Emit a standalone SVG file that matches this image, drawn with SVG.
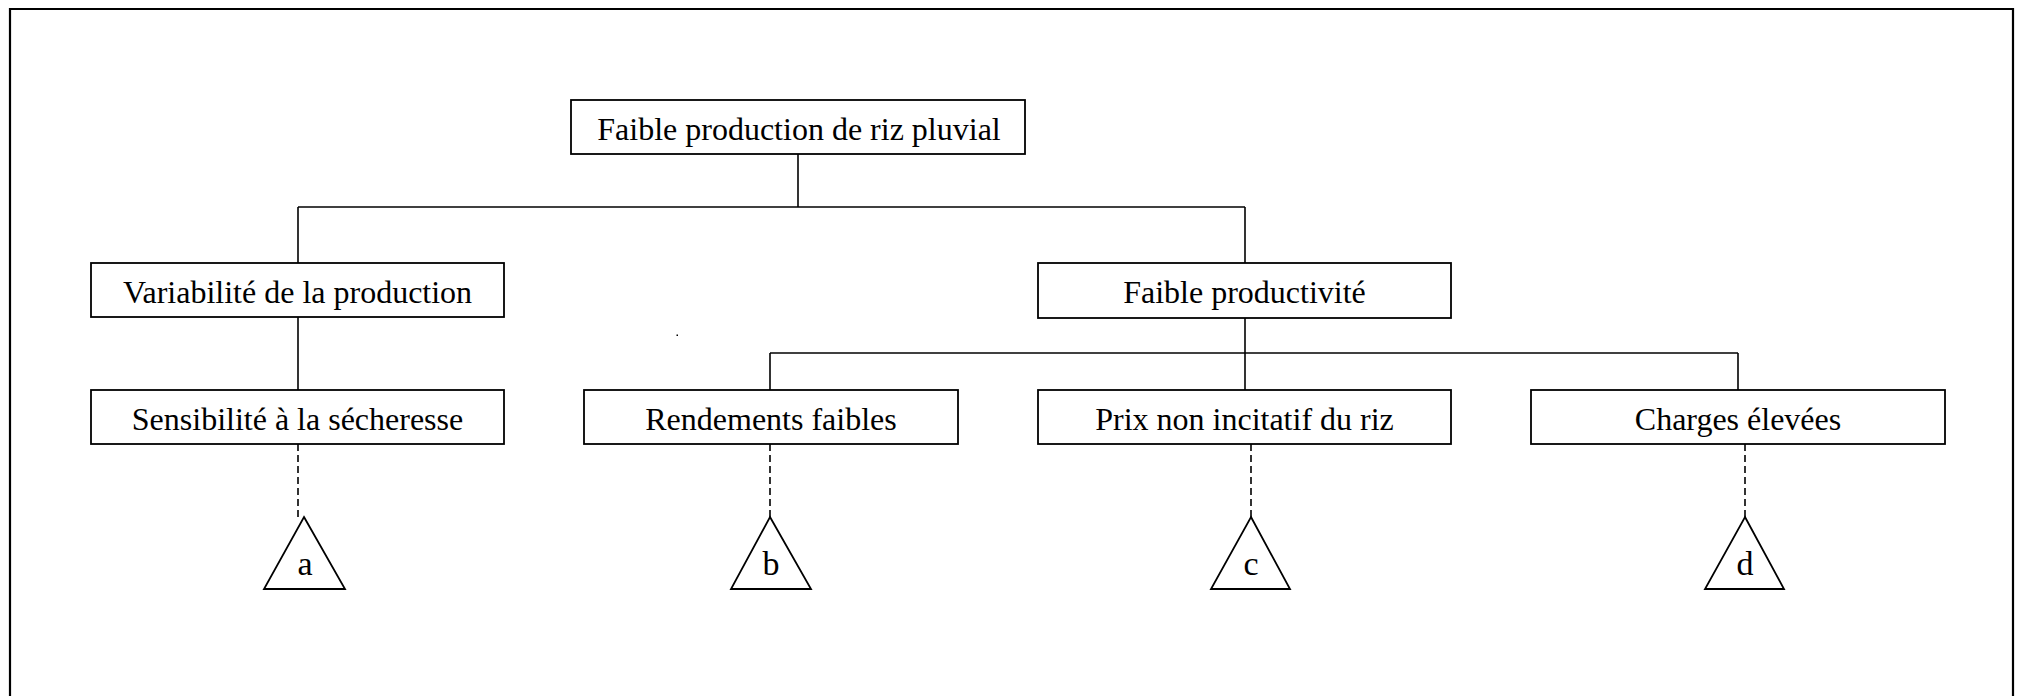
<svg xmlns="http://www.w3.org/2000/svg" width="2019" height="696" viewBox="0 0 2019 696">
  <style>
    .frame { fill: none; stroke: #000; stroke-width: 2.2; }
    .box { fill: #fff; stroke: #000; stroke-width: 1.8; }
    .link { fill: none; stroke: #000; stroke-width: 1.6; }
    .dash { fill: none; stroke: #000; stroke-width: 1.6; stroke-dasharray: 7 4; }
    .tri { fill: #fff; stroke: #000; stroke-width: 1.8; stroke-linejoin: miter; }
    text { font-family: "Liberation Serif", "Times New Roman", serif; font-size: 32px; fill: #000; text-anchor: middle; }
  </style>

  <rect x="0" y="0" width="2019" height="696" fill="#fff"/>
  <!-- outer frame (bottom edge runs past the page) -->
  <path class="frame" d="M10,720 L10,9 L2013,9 L2013,720"/>
  <!-- stray dot -->
  <rect x="676.5" y="334.5" width="1.5" height="1.5" fill="#000"/>

  <g id="connectors">
    <path class="link" d="M798,154 L798,207"/>
    <path class="link" d="M298,207 L1245,207"/>
    <path class="link" d="M298,207 L298,263"/>
    <path class="link" d="M1245,207 L1245,263"/>
    <path class="link" d="M298,317 L298,390"/>
    <path class="link" d="M1245,317 L1245,390"/>
    <path class="link" d="M770,353 L1738,353"/>
    <path class="link" d="M770,353 L770,390"/>
    <path class="link" d="M1738,353 L1738,390"/>
    <path class="dash" d="M298,444 L298,517"/>
    <path class="dash" d="M770,444 L770,517"/>
    <path class="dash" d="M1251,444 L1251,517"/>
    <path class="dash" d="M1745,444 L1745,517"/>
  </g>

  <g id="n-root">
    <rect class="box" x="571" y="100" width="454" height="54"/>
    <text x="799" y="140">Faible production de riz pluvial</text>
  </g>
  <g id="n-variabilite">
    <rect class="box" x="91" y="263" width="413" height="54"/>
    <text x="297.5" y="303">Variabilité de la production</text>
  </g>
  <g id="n-productivite">
    <rect class="box" x="1038" y="263" width="413" height="55"/>
    <text x="1244.5" y="303">Faible productivité</text>
  </g>
  <g id="n-secheresse">
    <rect class="box" x="91" y="390" width="413" height="54"/>
    <text x="297.5" y="430">Sensibilité à la sécheresse</text>
  </g>
  <g id="n-rendements">
    <rect class="box" x="584" y="390" width="374" height="54"/>
    <text x="771" y="430">Rendements faibles</text>
  </g>
  <g id="n-prix">
    <rect class="box" x="1038" y="390" width="413" height="54"/>
    <text x="1244.5" y="430">Prix non incitatif du riz</text>
  </g>
  <g id="n-charges">
    <rect class="box" x="1531" y="390" width="414" height="54"/>
    <text x="1738" y="430">Charges élevées</text>
  </g>

  <g id="t-a">
    <polygon class="tri" points="304,517 345,589 264,589"/>
    <text x="305" y="575" style="font-size:34px">a</text>
  </g>
  <g id="t-b">
    <polygon class="tri" points="770,517 811,589 731,589"/>
    <text x="771" y="575" style="font-size:34px">b</text>
  </g>
  <g id="t-c">
    <polygon class="tri" points="1251,517 1290,589 1211,589"/>
    <text x="1251" y="575" style="font-size:34px">c</text>
  </g>
  <g id="t-d">
    <polygon class="tri" points="1745,517 1784,589 1705,589"/>
    <text x="1745" y="575" style="font-size:34px">d</text>
  </g>
</svg>
